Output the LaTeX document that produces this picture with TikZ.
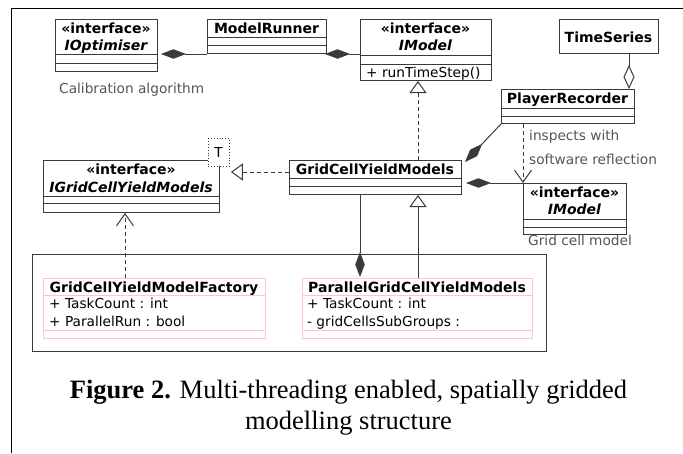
\documentclass[tikz,border=0pt]{standalone}
\usepackage{fontspec}
\setmainfont{Liberation Serif}
\setsansfont{DejaVu Sans}
\usetikzlibrary{arrows.meta,calc}
\definecolor{umlline}{HTML}{3A3A3A}
\definecolor{umlnote}{HTML}{555555}
\definecolor{umlpink}{HTML}{FFC4C4}
\tikzset{
  umlbox/.style={draw=umlline,line width=1pt,fill=white,inner sep=0pt,anchor=north west},
  pinkbox/.style={draw=umlpink,line width=1pt,fill=white,inner sep=0pt,anchor=north west},
  tparbox/.style={draw=umlline,line width=0.9pt,dotted,fill=white,inner sep=0pt,anchor=north west},
  pkgbox/.style={draw=umlline,line width=1pt,inner sep=0pt,anchor=north west},
  sepline/.style={draw=umlline,line width=1pt},
  pinksep/.style={draw=umlpink,line width=1pt},
  cname/.style={font=\sffamily\bfseries\fontsize{14}{16}\selectfont,inner sep=0pt,anchor=base},
  iname/.style={font=\sffamily\bfseries\itshape\fontsize{14}{16}\selectfont,inner sep=0pt,anchor=base},
  member/.style={font=\sffamily\fontsize{13.7}{16}\selectfont,inner sep=0pt,anchor=base west},
  note/.style={font=\sffamily\fontsize{13.7}{16}\selectfont,text=umlnote,inner sep=0pt,anchor=base west},
  link/.style={draw=umlline,line width=1pt},
  dashlink/.style={link,dash pattern=on 4pt off 3pt},
  compose/.style={-{Diamond[length=25pt,width=9.5pt,fill=umlline]}},
  aggregate/.style={-{Diamond[open,length=24pt,width=11pt,fill=white]}},
  realize/.style={-{Triangle[open,length=12pt,width=17pt,fill=white]}},
  depend/.style={-{Straight Barb[length=12pt,width=17pt]}},
}
% horizontal compartment divider at a given depth below the top of a box
\newcommand\compline[3][sepline]{%
  \draw[#1] ($(#2.north west)+(0,#3)$) -- ($(#2.north east)+(0,#3)$);}

\begin{document}
\begin{tikzpicture}[x=1pt,y=-1pt]
\useasboundingbox (0,0) rectangle (683,453);

% page frame
\draw[line width=1.8pt] (11.5,453) -- (11.5,8.5) -- (683,8.5);

% package frame around the implementations
\node[pkgbox,minimum width=514pt,minimum height=97pt] (pkg) at (32,254) {};

% IOptimiser
\node[umlbox,minimum width=102pt,minimum height=52pt] (iopt) at (55,19) {};
\compline{iopt}{35}\compline{iopt}{44}
\node[cname] (iopts) at (106,33) {«interface»};
\node[iname] (ioptn) at (106,50) {IOptimiser};
\node[note] (calib) at (59,93) {Calibration algorithm};

% ModelRunner
\node[umlbox,minimum width=119pt,minimum height=34pt] (mr) at (207,19) {};
\compline{mr}{18}\compline{mr}{26}
\node[cname] (mrn) at (266.5,33) {ModelRunner};

% IModel (top)
\node[umlbox,minimum width=131pt,minimum height=61pt] (imodel) at (360,19) {};
\compline{imodel}{36}\compline{imodel}{45}
\node[cname] (imodels) at (425.5,33) {«interface»};
\node[iname] (imodeln) at (425.5,50) {IModel};
\node[member] (imodelop) at (366,77) {+ runTimeStep()};

% TimeSeries
\node[umlbox,minimum width=99pt,minimum height=34pt] (ts) at (559,19) {};
\node[cname] (tsn) at (608.5,42) {TimeSeries};

% PlayerRecorder
\node[umlbox,minimum width=133pt,minimum height=34pt] (pr) at (501,89) {};
\compline{pr}{19}\compline{pr}{27}
\node[cname] (prn) at (567.5,103) {PlayerRecorder};
\node[note] (insp1) at (529,140) {inspects with};
\node[note] (insp2) at (529,164) {software reflection};

% GridCellYieldModels
\node[umlbox,minimum width=172pt,minimum height=34pt] (gcym) at (289,160) {};
\compline{gcym}{18}\compline{gcym}{26}
\node[cname] (gcymn) at (375,174) {GridCellYieldModels};

% IGridCellYieldModels with template parameter
\node[umlbox,minimum width=176pt,minimum height=52pt] (igcym) at (43,160) {};
\compline{igcym}{36}\compline{igcym}{43}
\node[cname] (igcyms) at (131,174) {«interface»};
\node[iname] (igcymn) at (131,192) {IGridCellYieldModels};
\node[tparbox,minimum width=21pt,minimum height=28pt] (tpar) at (208,138) {};
\node[font=\sffamily\fontsize{13.7}{16}\selectfont,inner sep=0pt,anchor=base] (tparn) at (218.5,157) {T};

% IModel (grid cell)
\node[umlbox,minimum width=103pt,minimum height=51pt] (im2) at (523,183) {};
\compline{im2}{36}\compline{im2}{44}
\node[cname] (im2s) at (574.5,197) {«interface»};
\node[iname] (im2n) at (574.5,214) {IModel};
\node[note] (gcm) at (528,245) {Grid cell model};

% GridCellYieldModelFactory
\node[pinkbox,minimum width=222pt,minimum height=60pt] (fac) at (43,278) {};
\compline[pinksep]{fac}{17}\compline[pinksep]{fac}{52}
\node[cname] (facn) at (154,292) {GridCellYieldModelFactory};
\node[member] (faca) at (49,308) {+ TaskCount : int};
\node[member] (facb) at (49,326) {+ ParallelRun : bool};

% ParallelGridCellYieldModels
\node[pinkbox,minimum width=230pt,minimum height=60pt] (pg) at (302,278) {};
\compline[pinksep]{pg}{17}\compline[pinksep]{pg}{52}
\node[cname] (pgn) at (417,292) {ParallelGridCellYieldModels};
\node[member] (pga) at (307,308) {+ TaskCount : int};
\node[member] (pgb) at (307,326) {- gridCellsSubGroups :};

% guide columns and rows for the connectors
\coordinate (xreal) at (418,0);
\coordinate (xagg) at (629,0);
\coordinate (xdep) at (523,0);
\coordinate (xcomp) at (360,0);
\coordinate (xfac) at (125,0);
\coordinate (yreal) at (0,172);

% connectors
\draw[link,compose] (mr.south west) -- ($(iopt.east |- mr.south west)+(3,0)$);
\draw[link,compose] (imodel.west |- mr.south east) -- ($(mr.south east)+(-2,0)$);
\draw[dashlink,realize] (gcym.north -| xreal) -- (imodel.south -| xreal);
\draw[link,aggregate] (ts.south -| xagg) -- (pr.north -| xagg);
\draw[link,compose] (pr.south west) -- ($(gcym.north east)+(3,2)$);
\draw[dashlink,depend] (pr.south -| xdep) -- (im2.north west);
\draw[link,compose] (im2.north west) -- ($(gcym.east |- im2.north west)+(4,0)$);
\draw[dashlink,realize] (gcym.west |- yreal) -- ($(tpar.east |- yreal)+(1,0)$);
\draw[dashlink,depend] (fac.north -| xfac) -- (igcym.south -| xfac);
\draw[link,compose] (gcym.south -| xcomp) -- ($(pg.north -| xcomp)+(0,-1)$);
\draw[link,realize] (pg.north -| xreal) -- (gcym.south -| xreal);

% caption
\node[font=\fontsize{26.5}{31}\selectfont,inner sep=0pt,anchor=base] (cap1) at (348.5,398)
  {\textbf{Figure 2.} Multi-threading enabled, spatially gridded};
\node[font=\fontsize{26.5}{31}\selectfont,inner sep=0pt,anchor=base] (cap2) at (348.5,429)
  {modelling structure};
\end{tikzpicture}
\end{document}
